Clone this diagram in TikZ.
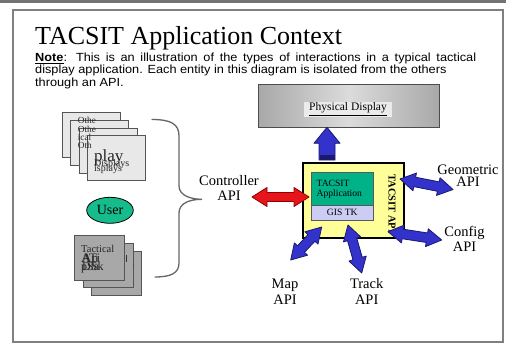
\documentclass[tikz,border=0pt]{standalone}
\usepackage{fontspec}
\setmainfont{Liberation Serif}
\newfontfamily\notefont[FakeStretch=1.08]{Liberation Sans}
\usetikzlibrary{calc,shapes.geometric}
\definecolor{appteal}{RGB}{0,178,136}
\definecolor{userteal}{RGB}{22,188,140}
\definecolor{boxyellow}{RGB}{255,255,153}
\definecolor{gislav}{RGB}{204,204,245}
\definecolor{apiblue}{RGB}{51,51,204}
\definecolor{apiblueline}{RGB}{25,25,110}
\definecolor{ctrlred}{RGB}{232,20,28}
\definecolor{ctrlredline}{RGB}{140,0,0}
\definecolor{cardlight}{RGB}{232,232,232}
\definecolor{carddark}{RGB}{168,168,168}
\definecolor{frameg}{RGB}{128,128,128}
\definecolor{cardedge}{RGB}{85,85,85}

% style, end A, end B, head length, head half width, shaft half width
\newcommand\myDblArrow[6]{%
  \filldraw[#1] (#2) -- ($(#2)!#4!(#3)!#5!90:(#3)$) -- ($(#2)!#4!(#3)!#6!90:(#3)$)
    -- ($(#3)!#4!(#2)!#6!-90:(#2)$) -- ($(#3)!#4!(#2)!#5!-90:(#2)$) -- (#3)
    -- ($(#3)!#4!(#2)!#5!90:(#2)$) -- ($(#3)!#4!(#2)!#6!90:(#2)$)
    -- ($(#2)!#4!(#3)!#6!-90:(#3)$) -- ($(#2)!#4!(#3)!#5!-90:(#3)$) -- cycle;}
% style, base, tip, head length, head half width, shaft half width
\newcommand\mySglArrow[6]{%
  \filldraw[#1] ($(#2)!#6!90:(#3)$) -- ($(#3)!#4!(#2)!#6!-90:(#2)$)
    -- ($(#3)!#4!(#2)!#5!-90:(#2)$) -- (#3) -- ($(#3)!#4!(#2)!#5!90:(#2)$)
    -- ($(#3)!#4!(#2)!#6!90:(#2)$) -- ($(#2)!#6!-90:(#3)$) -- cycle;}

\tikzset{
  dcard/.style={draw=cardedge, line width=0.9pt, fill=cardlight, minimum width=58pt,
    minimum height=45pt, anchor=north west, inner sep=0pt},
  tcard/.style={draw=cardedge, line width=0.9pt, fill=carddark, minimum width=50pt,
    minimum height=44.5pt, anchor=north west, inner sep=0pt},
  cardtxt/.style={anchor=base west, inner sep=0pt, text=black!85},
  apilabel/.style={anchor=north, inner sep=0pt, align=center,
    font=\fontsize{14.5}{15.5}\selectfont},
  bluearrow/.style={fill=apiblue, draw=apiblueline, line width=0.8pt, line join=round},
  redarrow/.style={fill=ctrlred, draw=ctrlredline, line width=0.8pt, line join=round},
  notetxt/.style={anchor=base west, inner sep=0pt, font=\notefont\fontsize{11.8}{12}\selectfont}
}

\begin{document}
\begin{tikzpicture}[x=1pt,y=-1pt]
\useasboundingbox (0,0) rectangle (506,345);
\fill[white] (0,0) rectangle (506,345);
% slide frame
\draw[line width=2.5pt, black!55] (0,1.3) -- (506,1.3);
\draw[frameg, line width=1.6pt] (13,10) rectangle (503,342);

% title and note
\node[anchor=base west, inner sep=0pt, font=\fontsize{26}{30}\selectfont] (title) at (35,45) {TACSIT Application Context};
\node[notetxt] (note1) at (35,62) {\makebox[441pt][s]{\underline{\textbf{Note}}: This is an illustration of the types of interactions in a typical tactical}};
\node[notetxt] (note2) at (35,74) {display application. Each entity in this diagram is isolated from the others};
\node[notetxt] (note3) at (35,86) {through an API.};

% physical display
\node[draw=black!70, line width=1pt, left color=black!34, right color=black!34, middle color=black!14,
  minimum width=181pt, minimum height=43pt, inner sep=0pt] (phys) at (349,105.5) {};
\node[fill=black!8, minimum width=88pt, minimum height=15pt, inner sep=0pt,
  font=\fontsize{11.5}{13}\selectfont] (physlbl) at (348,109.2) {\underline{Physical Display}};

% TACSIT box
\node[draw=black, line width=2.6pt, fill=boxyellow, minimum width=101pt, minimum height=75pt, inner sep=0pt] (ybox) at (353.5,200.5) {};
\node[draw=black!65, line width=0.8pt, fill=appteal, minimum width=61.3pt, minimum height=32.3pt,
  inner xsep=5pt, inner ysep=0pt, text width=51.3pt, align=left, font=\fontsize{9.6}{10}\selectfont] (app) at (342.3,188.9) {TACSIT\\Application};
\node[draw=black!65, line width=0.8pt, fill=gislav, minimum width=61.3pt, minimum height=15pt,
  inner sep=0pt, font=\fontsize{9.6}{10}\selectfont] (gis) at (342.3,212.6) {GIS TK};
\node[rotate=-90, inner sep=0pt, font=\bfseries\fontsize{10.5}{12}\selectfont] (tapi) at (392,204) {TACSIT API};

% API labels
\node[apilabel] (ctrl) at (229,175) {Controller\\API};
\node[apilabel, font=\fontsize{14.5}{12.5}\selectfont] (geo) at (468,164.3) {Geometric\\API};
\node[apilabel] (conf) at (464.5,226) {Config\\API};
\node[apilabel] (map) at (285,279) {Map\\API};
\node[apilabel] (track) at (366.7,278.3) {Track\\API};

% arrow end points
\coordinate (upB) at (327,160);
\coordinate (upT) at (327,127.3);
\coordinate (ctrlA) at (252,197);
\coordinate (ctrlB) at (309,197);
\coordinate (geoA) at (400,179);
\coordinate (geoB) at (453,189.5);
\coordinate (confA) at (388,231.7);
\coordinate (confB) at (441.7,240);
\coordinate (mapA) at (321.7,227);
\coordinate (mapB) at (290.7,260);
\coordinate (trackA) at (348,225);
\coordinate (trackB) at (361.7,273);

\mySglArrow{bluearrow}{upB}{upT}{16pt}{13pt}{8pt}
\fill[apiblueline] (319.5,155) rectangle (334.5,160);
\myDblArrow{redarrow}{ctrlA}{ctrlB}{15pt}{9.5pt}{4.5pt}
\myDblArrow{bluearrow}{geoA}{geoB}{15pt}{9pt}{4.8pt}
\myDblArrow{bluearrow}{confA}{confB}{15pt}{9pt}{4.8pt}
\myDblArrow{bluearrow}{mapA}{mapB}{15pt}{9pt}{4.8pt}
\myDblArrow{bluearrow}{trackA}{trackB}{15pt}{9pt}{4.8pt}

% brace
\draw[black!60, line width=1.3pt, line cap=round]
  (152,119.5) .. controls (171,119.5) and (179,124) .. (179,136) -- (179,186)
  .. controls (179,195) and (190,199.3) .. (202,199.3)
  .. controls (190,199.3) and (179,203) .. (179,213) -- (179,263)
  .. controls (179,273) and (171,277) .. (155,277);

% other displays stack
\node[dcard] (d1) at (62,112) {};
\node[dcard] (d2) at (70,120) {};
\node[dcard] (d3) at (78.5,127.5) {};
\node[dcard] (d4) at (87,135) {};
\node[cardtxt, font=\fontsize{9.3}{10}\selectfont] (o1) at (77.7,123.3) {Othe};
\node[cardtxt, font=\fontsize{9.3}{10}\selectfont] (o2) at (77.7,132) {Othe};
\node[cardtxt, font=\fontsize{9.3}{10}\selectfont] (o3) at (77.7,140.5) {ical};
\node[cardtxt, font=\fontsize{9.3}{10}\selectfont] (o4) at (77.7,148.5) {Oth};
\node[cardtxt, font=\fontsize{17}{18}\selectfont] (o5) at (94,161)
  {\rlap{\fontsize{10}{11}\selectfont\raisebox{-5.5pt}{Displays}}%
   \rlap{\fontsize{10}{11}\selectfont\raisebox{-10pt}{isplays}}play};

% user
\node[ellipse, draw=black, line width=0.8pt, fill=userteal, minimum width=46.6pt, minimum height=26pt,
  inner sep=0pt, font=\fontsize{14}{16}\selectfont] (user) at (110,210.3) {User};

% tactical API stack
\node[tcard] (t3) at (91,250.5) {};
\node[tcard] (t2) at (82.5,242.5) {};
\node[tcard] (t1) at (74,235) {};
\fill[black!80] (125.5,255) rectangle (127.3,261.5);
\fill[black!70] (133,263) rectangle (134.2,268);
\node[cardtxt, font=\fontsize{10.5}{11}\selectfont] (tt1) at (81,252.5) {Tactical};
\node[cardtxt, font=\fontsize{13}{14}\selectfont] (tt2) at (81,262)
  {\rlap{ATi}\rlap{\kern1pt Ap}%
   \rlap{\fontsize{12}{13}\selectfont\raisebox{-8.5pt}{pSa}}%
   \fontsize{12}{13}\selectfont\raisebox{-8.5pt}{\kern1pt DSk}};
\end{tikzpicture}
\end{document}
